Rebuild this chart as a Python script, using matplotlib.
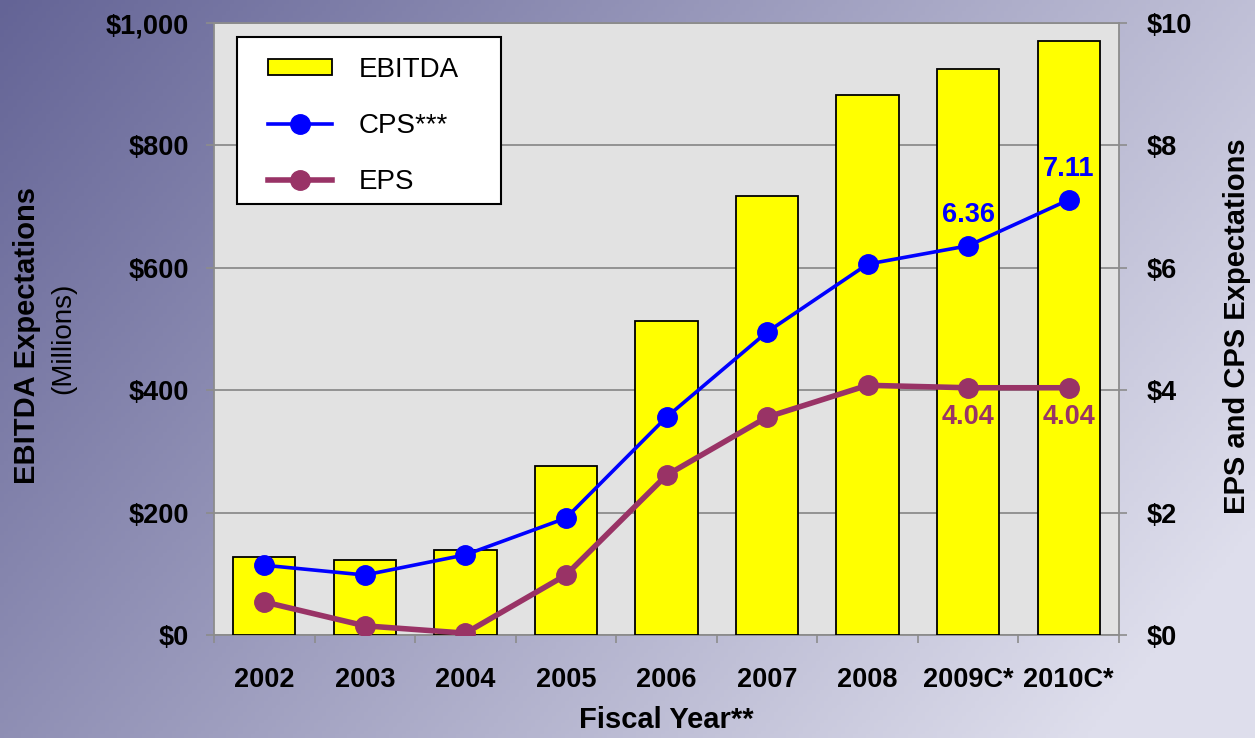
import numpy as np
import matplotlib.pyplot as plt
from matplotlib.patches import Rectangle
from matplotlib.ticker import FuncFormatter

plt.rcParams["font.family"] = ["Liberation Sans", "DejaVu Sans"]

years = ["2002", "2003", "2004", "2005", "2006", "2007", "2008", "2009C*", "2010C*"]
ebitda = [127, 122, 139, 276, 513, 717, 882, 925, 970]
cps = [1.14, 0.98, 1.31, 1.91, 3.56, 4.95, 6.06, 6.36, 7.11]
eps = [0.54, 0.15, 0.03, 0.98, 2.61, 3.56, 4.08, 4.04, 4.04]
cps_labels = {7: "6.36", 8: "7.11"}
eps_labels = {7: "4.04", 8: "4.04"}

bar_color = "#FFFF00"
cps_color = "#0000FF"
eps_color = "#993366"
grid_color = "#8C8C8C"

W, H = 1255, 738
fig = plt.figure(figsize=(W / 100, H / 100), dpi=100)

# slate-blue to lavender backdrop
bg = fig.add_axes([0, 0, 1, 1], zorder=-10)
gx, gy = np.meshgrid(np.linspace(0, 1, 300), np.linspace(0, 1, 200))
t = np.clip(0.75 * gx + 0.35 * gy, 0, 1)
dark = np.array([100, 100, 150]) / 255
light = np.array([222, 222, 236]) / 255
img = dark[None, None, :] * (1 - t[..., None]) + light[None, None, :] * t[..., None]
bg.imshow(img, aspect="auto", extent=[0, 1, 0, 1], origin="upper")
bg.axis("off")

ax = fig.add_axes([214 / W, 1 - 635 / H, (1119 - 214) / W, (635 - 23) / H])
ax.set_facecolor("#E2E2E2")
x = np.arange(len(years))

ax.bar(x, ebitda, width=0.62, color=bar_color, edgecolor="black", linewidth=1.3,
       zorder=3, label="EBITDA")
ax.set_ylim(0, 1000)
ax.set_xlim(-0.5, len(years) - 0.5)
ax.set_yticks(np.arange(0, 1001, 200))
ax.yaxis.set_major_formatter(FuncFormatter(lambda v, p: f"${v:,.0f}"))
ax.grid(axis="y", color=grid_color, linewidth=1.3, zorder=1)
ax.set_axisbelow(True)
ax.set_xticks(x)
ax.set_xticklabels(years)
ax.set_xticks(np.arange(-0.5, len(years)), minor=True)
ax.tick_params(axis="x", which="major", length=0, pad=23)
ax.tick_params(axis="x", which="minor", length=6, color=grid_color, width=1.2)
ax.tick_params(axis="y", length=6, color=grid_color, width=1.2, pad=12)
for lbl in ax.get_xticklabels() + ax.get_yticklabels():
    lbl.set_fontsize(19.5)
    lbl.set_fontweight("bold")
for s in ax.spines.values():
    s.set_color(grid_color)
    s.set_linewidth(1.3)

ax2 = ax.twinx()
ax2.set_ylim(0, 10)
ax2.set_yticks(np.arange(0, 11, 2))
ax2.yaxis.set_major_formatter(FuncFormatter(lambda v, p: f"${v:.0f}"))
ax2.tick_params(axis="y", length=6, color=grid_color, width=1.2, pad=14)
for lbl in ax2.get_yticklabels():
    lbl.set_fontsize(19.5)
    lbl.set_fontweight("bold")
for s in ax2.spines.values():
    s.set_visible(False)

ax2.plot(x, eps, color=eps_color, linewidth=4, marker="o", markersize=14,
         zorder=4, label="EPS")
ax2.plot(x, cps, color=cps_color, linewidth=2.6, marker="o", markersize=14,
         zorder=5, label="CPS***")

for i, txt in cps_labels.items():
    ax2.annotate(txt, (x[i], cps[i]), xytext=(0, 13), textcoords="offset points",
                 ha="center", va="bottom", color=cps_color, fontsize=19.5, fontweight="bold")
for i, txt in eps_labels.items():
    ax2.annotate(txt, (x[i], eps[i]), xytext=(0, -12), textcoords="offset points",
                 ha="center", va="top", color=eps_color, fontsize=19.5, fontweight="bold")

fig.text(666 / W, 1 - 720 / H, "Fiscal Year**", ha="center", va="center",
         fontsize=21, fontweight="bold")
fig.text(27 / W, 1 - 336 / H, "EBITDA Expectations", rotation=90, ha="center",
         va="center", fontsize=21, fontweight="bold")
fig.text(63 / W, 1 - 338 / H, "(Millions)", rotation=90, ha="center",
         va="center", fontsize=20)
fig.text(1237 / W, 1 - 326 / H, "EPS and CPS Expectations", rotation=90,
         ha="center", va="center", fontsize=21, fontweight="bold")

# legend box drawn separately so its size is fixed
box = Rectangle((237 / W, 1 - 204 / H), (501 - 237) / W, (204 - 37) / H,
                transform=fig.transFigure, facecolor="white", edgecolor="black",
                linewidth=1.5, zorder=6)
ax2.add_artist(box)
box.set_clip_on(False)

h1, l1 = ax.get_legend_handles_labels()
h2, l2 = ax2.get_legend_handles_labels()
leg = ax2.legend([h1[0], h2[1], h2[0]], [l1[0], l2[1], l2[0]],
                 loc="upper left", bbox_to_anchor=(268 / W, 1 - 57 / H),
                 bbox_transform=fig.transFigure,
                 fontsize=20, frameon=False, handlelength=2.3, handleheight=0.5,
                 labelspacing=1.08, borderpad=0, handletextpad=0.95, borderaxespad=0)
leg.set_zorder(7)

fig.savefig("out.png", dpi=100)
